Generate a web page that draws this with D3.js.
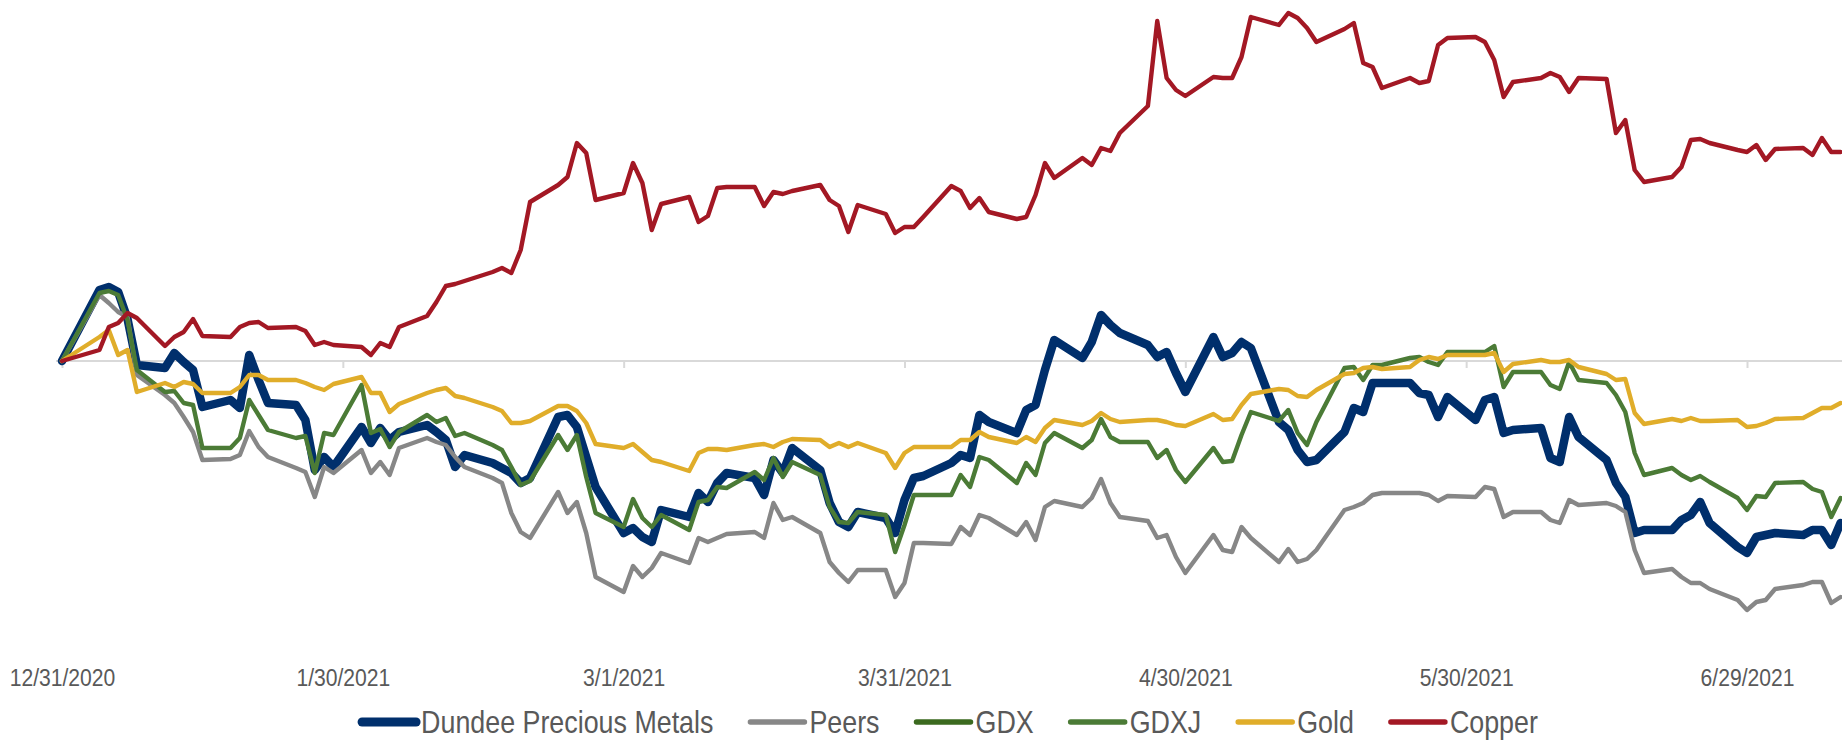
<!DOCTYPE html>
<html>
<head>
<meta charset="utf-8">
<script src="https://cdn.jsdelivr.net/npm/d3@7"></script>
<style>
  body { margin: 0; background: #fff; }
  svg { display: block; font-family: "Liberation Sans", Arial, sans-serif; }
</style>
</head>
<body>
<svg id="chart" width="1842" height="743"></svg>
<script>
// trading days shown on the chart
const dates = [
  '2020-12-31',
  '2021-01-04', '2021-01-05', '2021-01-06', '2021-01-07', '2021-01-08',
  '2021-01-11', '2021-01-12', '2021-01-13', '2021-01-14', '2021-01-15',
  '2021-01-18', '2021-01-19', '2021-01-20', '2021-01-21', '2021-01-22',
  '2021-01-25', '2021-01-26', '2021-01-27', '2021-01-28', '2021-01-29',
  '2021-02-01', '2021-02-02', '2021-02-03', '2021-02-04', '2021-02-05',
  '2021-02-08', '2021-02-09', '2021-02-10', '2021-02-11', '2021-02-12',
  '2021-02-15', '2021-02-16', '2021-02-17', '2021-02-18', '2021-02-19',
  '2021-02-22', '2021-02-23', '2021-02-24', '2021-02-25', '2021-02-26',
  '2021-03-01', '2021-03-02', '2021-03-03', '2021-03-04', '2021-03-05',
  '2021-03-08', '2021-03-09', '2021-03-10', '2021-03-11', '2021-03-12',
  '2021-03-15', '2021-03-16', '2021-03-17', '2021-03-18', '2021-03-19',
  '2021-03-22', '2021-03-23', '2021-03-24', '2021-03-25', '2021-03-26',
  '2021-03-29', '2021-03-30', '2021-03-31', '2021-04-01', '2021-04-02',
  '2021-04-05', '2021-04-06', '2021-04-07', '2021-04-08', '2021-04-09',
  '2021-04-12', '2021-04-13', '2021-04-14', '2021-04-15', '2021-04-16',
  '2021-04-19', '2021-04-20', '2021-04-21', '2021-04-22', '2021-04-23',
  '2021-04-26', '2021-04-27', '2021-04-28', '2021-04-29', '2021-04-30',
  '2021-05-03', '2021-05-04', '2021-05-05', '2021-05-06', '2021-05-07',
  '2021-05-10', '2021-05-11', '2021-05-12', '2021-05-13', '2021-05-14',
  '2021-05-17', '2021-05-18', '2021-05-19', '2021-05-20', '2021-05-21',
  '2021-05-24', '2021-05-25', '2021-05-26', '2021-05-27', '2021-05-28',
  '2021-05-31', '2021-06-01', '2021-06-02', '2021-06-03', '2021-06-04',
  '2021-06-07', '2021-06-08', '2021-06-09', '2021-06-10', '2021-06-11',
  '2021-06-14', '2021-06-15', '2021-06-16', '2021-06-17', '2021-06-18',
  '2021-06-21', '2021-06-22', '2021-06-23', '2021-06-24', '2021-06-25',
  '2021-06-28', '2021-06-29', '2021-06-30', '2021-07-01', '2021-07-02',
  '2021-07-05', '2021-07-06', '2021-07-07', '2021-07-08', '2021-07-09'
];

// % change since 12/31/2020, one value per date
const dundee = [
  0,
  7.1, 7.4, 6.9, 4.2, -0.4,
  -0.7, 0.8, -0.1, -0.9, -4.6,
  -3.9, -4.7, 0.6, -1.9, -4.2,
  -4.4, -5.9, -10.9, -9.6, -10.6,
  -6.6, -8.2, -6.7, -7.9, -7.1,
  -6.4, -7.1, -7.9, -10.6, -9.4,
  -10.2, -10.7, -11.2, -12.2, -11.7,
  -5.6, -5.4, -6.6, -9.6, -12.6,
  -17.2, -16.7, -17.6, -18.1, -14.9,
  -15.6, -13.2, -14.1, -12.2, -11.2,
  -11.7, -13.4, -9.9, -11.2, -8.7,
  -10.9, -14.2, -16.1, -16.6, -15.1,
  -15.7, -17.2, -13.9, -11.7, -11.5,
  -10.2, -9.4, -9.7, -5.4, -6.1,
  -7.2, -4.9, -4.4, -0.9, 2.1,
  0.3, 1.9, 4.6, 3.6, 2.8,
  1.6, 0.4, 0.9, -1.2, -3.1,
  2.4, 0.4, 0.8, 1.9, 1.3,
  -6.1, -6.9, -8.9, -10.1, -9.9,
  -7.1, -4.7, -5.1, -2.2, -2.2,
  -2.2, -3.2, -3.4, -5.6, -3.6,
  -5.9, -3.9, -3.6, -7.2, -6.9,
  -6.7, -9.7, -10.1, -5.6, -7.6,
  -9.9, -12.2, -13.6, -17.2, -16.9,
  -16.9, -15.9, -15.4, -14.1, -16.2,
  -18.6, -19.2, -17.6, -17.4, -17.2,
  -17.4, -16.9, -16.9, -18.4, -16.2
];

const peers = [
  0,
  6.6, 5.8, 4.9, 4.4, -1.4,
  -3.4, -4.2, -5.6, -7.1, -9.9,
  -9.8, -9.4, -7.0, -8.6, -9.6,
  -10.7, -11.1, -13.6, -10.6, -11.2,
  -8.9, -11.2, -10.1, -11.4, -8.7,
  -7.7, -8.1, -8.4, -9.6, -10.6,
  -11.7, -12.2, -15.2, -17.1, -17.7,
  -13.1, -15.2, -14.1, -17.2, -21.6,
  -23.1, -20.5, -21.6, -20.7, -19.2,
  -20.2, -17.7, -18.1, -17.7, -17.3,
  -17.1, -17.7, -14.2, -15.9, -15.6,
  -17.2, -20.1, -21.2, -22.1, -20.9,
  -20.9, -23.6, -22.2, -18.2, -18.2,
  -18.3, -16.6, -17.4, -15.4, -15.7,
  -17.4, -16.1, -17.9, -14.6, -14.0,
  -14.6, -13.7, -11.8, -14.2, -15.6,
  -16.0, -17.7, -17.4, -19.6, -21.2,
  -17.4, -18.9, -19.1, -16.6, -17.7,
  -20.1, -18.8, -20.1, -19.8, -18.9,
  -14.9, -14.6, -14.2, -13.4, -13.2,
  -13.2, -13.2, -13.4, -14.0, -13.5,
  -13.6, -12.6, -12.8, -15.6, -15.1,
  -15.1, -15.9, -16.2, -13.9, -14.4,
  -14.2, -14.5, -15.1, -18.9, -21.2,
  -20.8, -21.6, -22.2, -22.2, -22.8,
  -23.9, -24.9, -24.1, -23.9, -22.8,
  -22.4, -22.1, -22.1, -24.2, -23.6
];

// GDX has a legend entry only, its line is not visible in the chart
const gdx = [];

const gdxj = [
  0,
  6.8, 7.0, 6.6, 4.1, -0.9,
  -3.1, -3.0, -4.2, -4.4, -8.7,
  -8.7, -7.7, -3.9, -5.4, -6.9,
  -7.7, -7.5, -11.2, -7.2, -7.4,
  -2.4, -7.2, -6.8, -8.6, -7.1,
  -5.4, -6.1, -5.7, -7.5, -7.2,
  -8.4, -8.9, -10.6, -12.4, -12.0,
  -7.4, -8.9, -7.4, -11.6, -15.2,
  -16.6, -13.8, -15.7, -16.6, -15.4,
  -16.9, -14.1, -13.9, -12.6, -12.7,
  -11.1, -11.9, -9.7, -11.6, -10.1,
  -11.4, -14.6, -16.1, -16.2, -15.1,
  -15.4, -19.1, -16.4, -13.4, -13.4,
  -13.4, -11.4, -12.6, -9.6, -9.9,
  -12.2, -10.2, -11.4, -8.2, -7.2,
  -8.7, -7.9, -5.8, -7.6, -8.1,
  -8.1, -9.7, -8.9, -10.9, -12.1,
  -8.7, -10.1, -10.0, -7.4, -5.1,
  -6.0, -4.9, -7.2, -8.4, -6.1,
  -0.7, -0.6, -1.9, -0.4, -0.4,
  0.3, 0.4, -0.1, -0.4, 0.9,
  0.9, 0.9, 1.5, -2.6, -1.1,
  -1.1, -2.4, -2.8, -0.1, -1.9,
  -2.2, -3.4, -5.1, -9.2, -11.4,
  -10.7, -11.4, -11.9, -11.5, -12.1,
  -13.7, -14.9, -13.5, -13.6, -12.2,
  -12.1, -12.8, -13.1, -15.6, -13.7
];

const gold = [
  0,
  2.4, 3.1, 0.6, 1.1, -3.1,
  -2.2, -2.6, -2.1, -2.3, -3.2,
  -3.2, -2.6, -1.4, -1.4, -1.9,
  -1.9, -2.2, -2.6, -2.9, -2.3,
  -1.6, -3.2, -3.2, -5.1, -4.3,
  -3.2, -2.9, -2.7, -3.5, -3.7,
  -4.6, -5.0, -6.2, -6.2, -6.0,
  -4.5, -4.5, -5.0, -6.2, -8.3,
  -8.7, -8.3, -9.1, -9.9, -10.1,
  -11.0, -9.2, -8.8, -8.8, -8.9,
  -8.4, -8.3, -8.6, -8.1, -7.8,
  -7.9, -8.6, -8.2, -8.6, -8.2,
  -9.2, -10.7, -9.2, -8.6, -8.6,
  -8.6, -7.9, -7.9, -7.1, -7.6,
  -8.2, -7.6, -8.1, -6.7, -5.9,
  -6.4, -6.0, -5.2, -5.8, -6.1,
  -5.9, -5.9, -6.1, -6.4, -6.5,
  -5.3, -5.9, -5.8, -4.4, -3.3,
  -2.8, -2.9, -3.5, -3.6, -2.9,
  -1.3, -1.2, -0.7, -0.6, -0.8,
  -0.6, 0.1, 0.4, 0.2, 0.6,
  0.6, 0.6, 0.8, -1.1, -0.3,
  0.1, -0.1, -0.1, 0.1, -0.6,
  -1.3, -1.9, -1.8, -5.2, -6.3,
  -5.8, -6.0, -5.7, -6.0, -6.0,
  -5.9, -6.6, -6.5, -6.2, -5.8,
  -5.7, -5.2, -4.7, -4.7, -4.2
];

const copper = [
  0,
  1.1, 3.4, 3.8, 4.8, 4.3,
  1.5, 2.4, 2.9, 4.2, 2.5,
  2.4, 3.4, 3.8, 3.9, 3.3,
  3.4, 3.0, 1.6, 1.9, 1.6,
  1.4, 0.6, 1.8, 1.4, 3.4,
  4.5, 5.9, 7.5, 7.7, 8.0,
  8.9, 9.3, 8.8, 11.1, 15.9,
  17.6, 18.4, 21.8, 20.8, 16.1,
  16.8, 19.8, 17.8, 13.1, 15.7,
  16.4, 13.9, 14.5, 17.3, 17.4,
  17.4, 15.5, 16.9, 16.7, 17.0,
  17.6, 16.1, 15.5, 12.9, 15.6,
  14.7, 12.8, 13.4, 13.4, 14.4,
  17.5, 17.0, 15.3, 16.3, 14.9,
  14.2, 14.4, 16.6, 19.8, 18.3,
  20.3, 19.6, 21.3, 21.0, 22.8,
  25.5, 34.0, 28.3, 27.1, 26.5,
  28.4, 28.3, 28.3, 30.4, 34.4,
  33.6, 34.8, 34.3, 33.3, 31.9,
  33.2, 33.8, 29.8, 29.4, 27.3,
  28.3, 27.8, 28.0, 31.6, 32.3,
  32.4, 31.9, 30.1, 26.4, 27.9,
  28.3, 28.8, 28.4, 26.9, 28.3,
  28.2, 22.8, 24.1, 19.1, 17.9,
  18.4, 19.4, 22.1, 22.2, 21.8,
  21.1, 20.9, 21.6, 20.1, 21.2,
  21.3, 20.6, 22.3, 20.9, 20.9
];

const tickLabels = ['12/31/2020', '1/30/2021', '3/1/2021', '3/31/2021', '4/30/2021', '5/30/2021', '6/29/2021'];
const seriesNames = ['Dundee Precious Metals', 'Peers', 'GDX', 'GDXJ', 'Gold', 'Copper'];

// styles
const colors = ['#002f6c', '#878787', '#3b6a1f', '#4b7b36', '#e0ad2a', '#a31824'];
const widths = [8.5, 4.4, 4.4, 4.4, 4.4, 4.4];
const legendWidths = [9, 5.5, 5.5, 5.5, 5.5, 5.5];
const seriesValues = [dundee, peers, gdx, gdxj, gold, copper];

const W = 1842, H = 743;
const squeeze = 0.88; // the original text is a little condensed
const parseDay = d3.utcParse('%Y-%m-%d');
const parseTick = d3.utcParse('%m/%d/%Y');
const days = dates.map(parseDay);
const tickDates = tickLabels.map(parseTick);

const svg = d3.select('#chart');

const x = d3.scaleUtc()
  .domain([tickDates[0], tickDates[tickDates.length - 1]])
  .range([62, 1747]);

const y = d3.scaleLinear()
  .domain([-30, 36])
  .range([661, 1]);

const y0 = y(0);

// zero line (category axis)
svg.append('line')
  .attr('x1', 56).attr('x2', W)
  .attr('y1', y0).attr('y2', y0)
  .attr('stroke', '#d9d9d9')
  .attr('stroke-width', 2);

const xAxis = d3.axisBottom(x)
  .tickValues(tickDates)
  .tickFormat((d, i) => tickLabels[i])
  .tickSizeInner(7)
  .tickSizeOuter(0)
  .tickPadding(301);

const axisG = svg.append('g')
  .attr('transform', `translate(0,${y0})`)
  .call(xAxis);
axisG.select('.domain').remove();
axisG.selectAll('.tick line').attr('stroke', '#d9d9d9').attr('stroke-width', 2);
axisG.selectAll('.tick text')
  .attr('fill', '#595959')
  .attr('transform', `scale(${squeeze},1)`)
  .style('font-size', '24px')
  .style('font-family', '"Liberation Sans", Arial, sans-serif');

// series lines, drawn in legend order (copper ends up on top)
const line = d3.line()
  .x(d => x(d[0]))
  .y(d => y(d[1]));

seriesValues.forEach((vals, i) => {
  if (!vals.length) return;
  svg.append('path')
    .datum(vals.map((v, j) => [days[j], v]))
    .attr('d', line)
    .attr('fill', 'none')
    .attr('stroke', colors[i])
    .attr('stroke-width', widths[i])
    .attr('stroke-linejoin', 'round')
    .attr('stroke-linecap', 'round');
});

// legend
const legendY = 722;
const swatchLen = 58;
const gap = 33;
const legend = svg.append('g');
let cursor = 0;
seriesNames.forEach((name, i) => {
  const g = legend.append('g').attr('transform', `translate(${cursor},0)`);
  g.append('line')
    .attr('x1', 4).attr('x2', swatchLen)
    .attr('y1', legendY).attr('y2', legendY)
    .attr('stroke', colors[i])
    .attr('stroke-width', legendWidths[i])
    .attr('stroke-linecap', 'round');
  const t = g.append('text')
    .attr('transform', `translate(${swatchLen + 5},${legendY}) scale(${squeeze},1)`)
    .attr('dy', '0.36em')
    .attr('fill', '#595959')
    .style('font-size', '30.5px')
    .text(name);
  cursor += swatchLen + 5 + t.node().getComputedTextLength() * squeeze + gap;
});
const legendW = cursor - gap;
legend.attr('transform', `translate(${948 - legendW / 2},0)`);
</script>
</body>
</html>
